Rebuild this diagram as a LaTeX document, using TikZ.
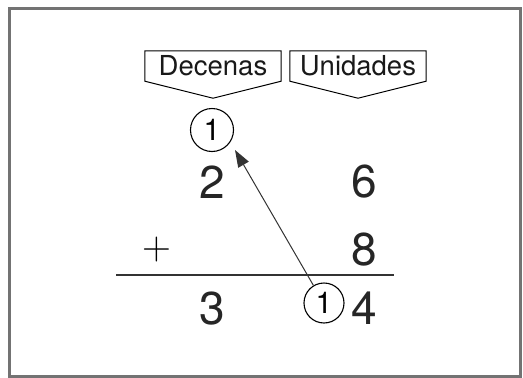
\documentclass[tikz,border=0pt]{standalone}
\usepackage{fontspec}
\setmainfont{TeX Gyre Heros}
\newfontfamily\plusfont{Latin Modern Roman}
\usetikzlibrary{arrows.meta}
\begin{document}
\begin{tikzpicture}[x=1pt,y=-1pt,
  header/.style={minimum width=136pt,minimum height=30pt,inner sep=0pt,text=black!90,font=\fontsize{27.5}{27.5}\selectfont},
  digit/.style={inner sep=0pt,text=black!85,font=\fontsize{46}{46}\selectfont},
  carry/.style={draw,circle,line width=1.1pt,minimum size=#1,inner sep=0pt,font=\fontsize{30}{30}\selectfont}]
  \useasboundingbox (0,0) rectangle (523,378);
  % frame
  \draw[line width=3pt,black!55] (9,8) rectangle (520,376);
  % column headers
  \node[header] (dec) at (213,66) {Decenas};
  \node[header] (uni) at (358,66) {Unidades};
  \foreach \h in {dec,uni}
    \draw[line width=1pt] (\h.south west) -- (\h.north west) -- (\h.north east)
      -- (\h.south east) -- ([yshift=-17pt]\h.south) -- cycle;
  % the sum
  \node[carry=43pt] (c1t) at (212,130) {1};
  \node[digit] (d2) at (212,182) {2};
  \node[digit] (d6) at (364,182) {6};
  \node[digit] (d8) at (364,250) {8};
  \node[inner sep=0pt,font=\plusfont\fontsize{40}{40}\selectfont] (plus) at (157,250) {+};
  \coordinate (lineA) at (116,275);
  \coordinate (lineB) at (394,275);
  \draw[line width=1.4pt,black!80] (lineA) -- (lineB);
  \node[digit] (d3) at (212,309) {3};
  \node[carry=40pt] (c1b) at (324,303) {1};
  \node[digit] (d4) at (364,308) {4};
  % carry arrow
  \coordinate (tip) at (235,150);
  \draw[line width=1pt,black!80,-{Triangle[length=17pt,width=12pt]}] (c1b.121) -- (tip);
\end{tikzpicture}
\end{document}
